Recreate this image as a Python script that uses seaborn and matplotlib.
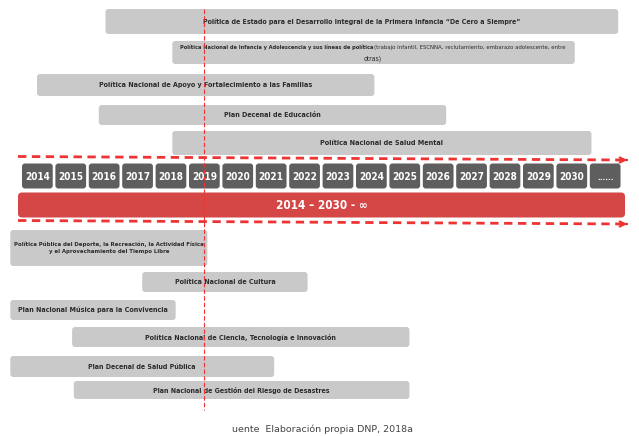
import matplotlib
matplotlib.use("Agg")
import matplotlib.pyplot as plt
from matplotlib import font_manager
from matplotlib.patches import FancyBboxPatch
import seaborn as sns

sns.set_theme(style="white")

_avail = {(f.name, f.stretch) for f in font_manager.fontManager.ttflist}
if any(n == "Liberation Sans Narrow" for n, _ in _avail):
    LABEL_FONT, LABEL_STRETCH = "Liberation Sans Narrow", "normal"
elif any(n == "DejaVu Sans" and s in ("condensed", "semi-condensed") for n, s in _avail):
    LABEL_FONT, LABEL_STRETCH = "DejaVu Sans", "condensed"
else:
    LABEL_FONT, LABEL_STRETCH = "Liberation Sans", "normal"
plt.rcParams["font.family"] = [LABEL_FONT, "DejaVu Sans"]

# ---------------- data ----------------
policies_top = [
    "Política de Estado para el Desarrollo Integral de la Primera Infancia \u201cDe Cero a Siempre\u201d",
    "Política Nacional de Infancia y Adolescencia y sus líneas de política",
    "Política Nacional de Apoyo y Fortalecimiento a las Familias",
    "Plan Decenal de Educación",
    "Política Nacional de Salud Mental",
]
top_starts = [2016.5, 2018.5, 2014.45, 2016.3, 2018.5]
top_ends = [2031.85, 2030.55, 2024.55, 2026.7, 2031.05]
infancia_note = "(trabajo infantil, ESCNNA, reclutamiento, embarazo adolescente, entre"
infancia_note2 = "otras)"

policies_bottom = [
    "Política Pública del Deporte, la Recreación, la Actividad Física\ny el Aprovechamiento del Tiempo Libre",
    "Política Nacional de Cultura",
    "Plan Nacional Música para la Convivencia",
    "Política Nacional de Ciencia, Tecnología e Innovación",
    "Plan Decenal de Salud Pública",
    "Plan Nacional de Gestión del Riesgo de Desastres",
]
bottom_starts = [2013.65, 2017.6, 2013.65, 2015.5, 2013.65, 2015.55]
bottom_ends = [2019.55, 2022.55, 2018.6, 2025.6, 2021.55, 2025.6]

years = list(range(2014, 2031))
year_labels = [str(y) for y in years] + ["......"]
current_year = 2019
period_label = "2014 \u2013 2030 - \u221e"
source_label = "uente  Elaboración propia DNP, 2018a"

# ---------------- layout (pixel rows / target text widths) ----------------
top_rows = [(9, 34), (41, 64), (74, 96), (105, 125), (131, 155)]
bottom_rows = [(230, 266), (272, 292), (300, 320), (327, 347), (356, 377), (381, 399)]
ENLARGE = 1.22
top_text_w = [263, 197, 175, 80, 101]
bottom_text_w = [182, 82, 123, 158, 89, 146]

PX_PER_YEAR = 33.4
X0 = 2014 - 22 / PX_PER_YEAR
W, H = 639, 436
X1 = X0 + W / PX_PER_YEAR

BAR_GRAY = "#c9c9c9"
BOX_GRAY = "#5e5e5e"
RED = "#d54646"
DASH_RED = "#ee3333"
TXT = "#2b2b2b"

fig = plt.figure(figsize=(W / 100, H / 100), dpi=100)
ax = fig.add_axes([0, 0, 1, 1])
ax.set_xlim(X0, X1)
ax.set_ylim(H, 0)
ax.axis("off")
renderer = fig.canvas.get_renderer()


def px2x(px):
    return X0 + px / PX_PER_YEAR


def round_bars(container, radius_px=3):
    """Replace the rectangles of a barh container by rounded boxes at the same place."""
    for rect in container.patches:
        x, y = rect.get_x(), rect.get_y()
        w, h = rect.get_width(), rect.get_height()
        box = FancyBboxPatch((x, y), w, h,
                             boxstyle=f"round,pad=0,rounding_size={radius_px / PX_PER_YEAR}",
                             mutation_aspect=PX_PER_YEAR,
                             facecolor=rect.get_facecolor(), edgecolor="none",
                             zorder=rect.get_zorder())
        ax.add_patch(box)
        rect.set_visible(False)


def fit(t, target_px):
    bb = t.get_window_extent(renderer)
    t.set_fontsize(t.get_fontsize() * target_px / bb.width)
    return t


def label(x, y, s, target, ha="center", weight="bold", color=TXT, **kw):
    t = ax.text(x, y, s, ha=ha, va="center", fontsize=8, fontweight=weight, color=color,
                fontstretch=LABEL_STRETCH, zorder=4, **kw)
    return fit(t, target)


def bar_px(s, e):
    return (e - s) * PX_PER_YEAR


# top policy bars
for i, (name, s, e) in enumerate(zip(policies_top, top_starts, top_ends)):
    y0, y1 = top_rows[i]
    c = ax.barh((y0 + y1) / 2, e - s, left=s, height=y1 - y0, color=BAR_GRAY, edgecolor="none", zorder=2)
    round_bars(c)
    if i == 1:
        split = px2x(373)
        label(split, y0 + 6.5, name, 192, ha="right")
        label(split + 0.03, y0 + 6.5, infancia_note, 192, ha="left", weight="normal")
        label(px2x(373), y0 + 17.5, infancia_note2, 18, weight="normal")
    else:
        tw = min(top_text_w[i] * ENLARGE, bar_px(s, e) - 8)
        label((s + e) / 2, (y0 + y1) / 2, name, tw)

# bottom policy bars
for i, (name, s, e) in enumerate(zip(policies_bottom, bottom_starts, bottom_ends)):
    y0, y1 = bottom_rows[i]
    c = ax.barh((y0 + y1) / 2, e - s, left=s, height=y1 - y0, color=BAR_GRAY, edgecolor="none", zorder=2)
    round_bars(c)
    tw = min(bottom_text_w[i] * ENLARGE, bar_px(s, e) - 8)
    label((s + e) / 2, (y0 + y1) / 2, name, tw, linespacing=1.5)

# year boxes
positions = list(range(2014, 2014 + len(year_labels)))
c = ax.barh([176] * len(positions), [0.92] * len(positions), left=positions, height=25,
            color=BOX_GRAY, edgecolor="none", zorder=2)
round_bars(c, 3)
for p, lab in zip(positions, year_labels):
    label(p + 0.46, 177, lab, 25 if lab != "......" else 16, color="white")

# red period bar
rs, re_ = px2x(18), px2x(625)
c = ax.barh(205, re_ - rs, left=rs, height=25, color=RED, edgecolor="none", zorder=2)
round_bars(c, 4)
label((rs + re_) / 2, 205, period_label, 92, color="white")

# dashed arrows
for ya, yb in [(156.5, 160), (220.5, 224)]:
    ax.plot([px2x(18), px2x(625)], [ya, yb], color=DASH_RED, lw=2, ls=(0, (3, 2)), zorder=3)
    ax.annotate("", xy=(px2x(630), yb), xytext=(px2x(624), yb),
                arrowprops=dict(arrowstyle="->", color=DASH_RED, lw=1.6,
                                mutation_scale=9), zorder=3)

# current-year marker
ax.plot([current_year + 0.46] * 2, [9, 410], color=DASH_RED, lw=0.8, ls=(0, (4, 2)), zorder=5)

# source
fig.text(323 / W, 1 - 429 / H, source_label, ha="center", va="center", fontsize=6.8,
         color="#444444", family="DejaVu Sans")

fig.savefig("out.png", dpi=100)
